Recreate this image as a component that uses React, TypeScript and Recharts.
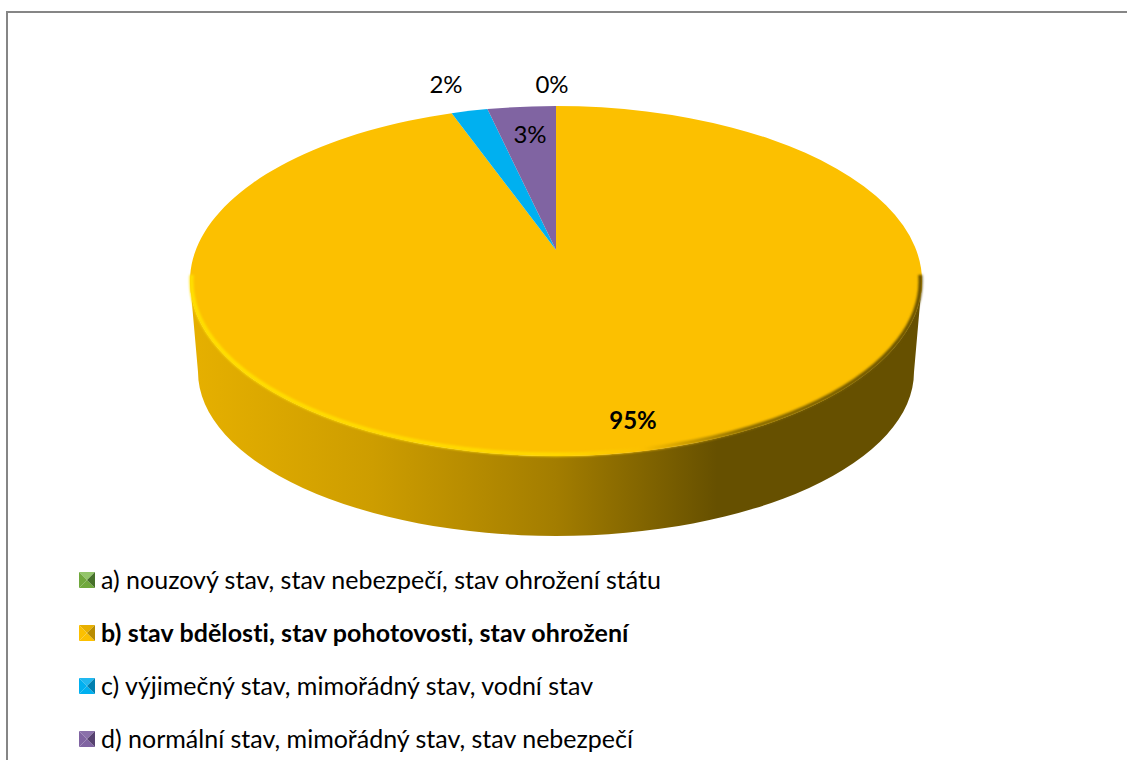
import React from "react";
import { PieChart, Pie, Legend } from "recharts";

const categories = [
  "a) nouzový stav, stav nebezpečí, stav ohrožení státu",
  "b) stav bdělosti, stav pohotovosti, stav ohrožení",
  "c) výjimečný stav, mimořádný stav, vodní stav",
  "d) normální stav, mimořádný stav, stav nebezpečí",
];
const values = [0, 95.4, 1.6, 3.0];
const colors = ["#70a83d", "#fcc000", "#00b0f0", "#8064a2"];
const darkColors = ["#46702a", "#b88c00", "#0080b0", "#574270"];
const lightColors = ["#93c56a", "#e8b000", "#20b8f0", "#8a70aa"];
const labelOffsets = [
  { dx: -4, dy: -198 },
  { dx: 77, dy: 138 },
  { dx: -110, dy: -198 },
  { dx: -26, dy: -148 },
];
const emphasised = 1;

const FONT = "Lato, 'Open Sans', sans-serif";
const CX = 556;
const CY = 281;
const RX = 366;
const RY = 175;
const VERTEX_DY = -31;
const DEPTH = 91;
const BOTTOM_RX = 358;
const BOTTOM_RY = 164;

const chartData = categories.map((name, i) => ({ name, value: values[i], fill: colors[i] }));

const rad = (d: number) => (d * Math.PI) / 180;
const pt = (cx: number, cy: number, rx: number, ry: number, a: number) => [
  cx + rx * Math.cos(rad(a)),
  cy - ry * Math.sin(rad(a)),
];

// the part of a clockwise sector that faces the viewer (angles -180..0)
function frontRange(start: number, end: number): [number, number] | null {
  const a = Math.min(start, 0);
  const b = Math.max(end, -180);
  return a > b ? [a, b] : null;
}

function TopShape(props: any) {
  const { cx, cy, outerRadius, startAngle, endAngle, fill } = props;
  if (Math.abs(startAngle - endAngle) < 0.01) return <g />;
  const ry = (outerRadius * RY) / RX;
  const [x0, y0] = pt(cx, cy, outerRadius, ry, startAngle);
  const [x1, y1] = pt(cx, cy, outerRadius, ry, endAngle);
  const large = Math.abs(startAngle - endAngle) > 180 ? 1 : 0;
  const d = `M${cx},${cy + VERTEX_DY}L${x0},${y0}A${outerRadius},${ry} 0 ${large} 1 ${x1},${y1}Z`;
  const range = frontRange(startAngle, endAngle);
  let rim = null;
  if (range) {
    const ir = outerRadius - 1.5;
    const iry = ry - 1.5;
    const [a0, b0] = pt(cx, cy, ir, iry, range[0] + 2);
    const [a1, b1] = pt(cx, cy, ir, iry, range[1] - 2);
    rim = (
      <path
        d={`M${a0},${b0}A${ir},${iry} 0 1 1 ${a1},${b1}`}
        fill="none"
        stroke="url(#rimGrad)"
        strokeWidth={4}
        filter="url(#rimBlur)"
      />
    );
  }
  return (
    <g>
      <path d={d} fill={fill} />
      {rim}
    </g>
  );
}

function WallShape(props: any) {
  const { cx, cy, outerRadius, startAngle, endAngle } = props;
  const range = frontRange(startAngle, endAngle);
  if (!range) return <g />;
  const ry = (outerRadius * RY) / RX;
  const [x0, y0] = pt(cx, cy, outerRadius, ry, range[0]);
  const [x1, y1] = pt(cx, cy, outerRadius, ry, range[1]);
  const [bx0, by0] = pt(cx, cy + DEPTH, BOTTOM_RX, BOTTOM_RY, range[0]);
  const [bx1, by1] = pt(cx, cy + DEPTH, BOTTOM_RX, BOTTOM_RY, range[1]);
  const d = `M${x1},${y1}L${bx1},${by1}A${BOTTOM_RX},${BOTTOM_RY} 0 0 0 ${bx0},${by0}L${x0},${y0}A${outerRadius},${ry} 0 0 1 ${x1},${y1}Z`;
  return <path d={d} fill="url(#wallGrad)" />;
}

function renderLabel(props: any) {
  const { cx, cy, index, value } = props;
  const off = labelOffsets[index];
  return (
    <text
      x={cx + off.dx}
      y={cy + off.dy}
      textAnchor="middle"
      dominantBaseline="central"
      fontFamily={FONT}
      fontSize={24}
      fontWeight={index === emphasised ? 700 : 400}
      fill="#000"
    >
      {Math.round(value)}%
    </text>
  );
}

function Marker({ i }: { i: number }) {
  const s = 16;
  const c = s / 2;
  return (
    <svg width={s} height={s} style={{ display: "block", flex: "none" }}>
      <polygon points={`0,0 ${s},0 ${c},${c}`} fill={lightColors[i]} />
      <polygon points={`0,${s} ${s},${s} ${c},${c}`} fill={colors[i]} />
      <polygon points={`0,0 0,${s} ${c},${c}`} fill={colors[i]} />
      <polygon points={`${s},0 ${s},${s} ${c},${c}`} fill={darkColors[i]} />
    </svg>
  );
}

function LegendContent(props: any) {
  const seen = new Set<string>();
  const items = (props.payload || []).filter((it: any) => {
    if (seen.has(it.value)) return false;
    seen.add(it.value);
    return true;
  });
  return (
    <div>
      {items.map((it: any, i: number) => (
        <div
          key={i}
          style={{
            display: "flex",
            alignItems: "center",
            height: 53,
            fontFamily: FONT,
            fontSize: 25,
            fontWeight: i === emphasised ? 700 : 400,
            letterSpacing: i === emphasised ? 0.08 : 0,
            color: "#000",
            whiteSpace: "nowrap",
          }}
        >
          <Marker i={i} />
          <span style={{ marginLeft: 6, position: "relative", top: -1 }}>{it.value}</span>
        </div>
      ))}
    </div>
  );
}

export default function App() {
  return (
    <div style={{ position: "absolute", left: 0, top: 0, width: 1127, height: 760, overflow: "hidden", background: "#fff" }}>
      <div style={{ position: "absolute", left: 6, top: 11, width: 1300, height: 900, border: "2px solid #868686" }} />
      <PieChart width={1127} height={760} margin={{ top: 0, right: 0, bottom: 0, left: 0 }} style={{ position: "absolute", left: 0, top: 0 }}>
        <defs>
          <linearGradient id="wallGrad" x1="0" y1="0" x2="1" y2="0">
            <stop offset="0" stopColor="#e6b000" />
            <stop offset="0.25" stopColor="#cd9d00" />
            <stop offset="0.5" stopColor="#a37d00" />
            <stop offset="0.72" stopColor="#665000" />
            <stop offset="1" stopColor="#665000" />
          </linearGradient>
          <linearGradient id="rimGrad" x1="0" y1="0" x2="1" y2="0">
            <stop offset="0" stopColor="#ffe000" />
            <stop offset="0.5" stopColor="#ffd800" />
            <stop offset="0.62" stopColor="#fcc000" />
            <stop offset="0.76" stopColor="#8a6c00" />
            <stop offset="1" stopColor="#665000" />
          </linearGradient>
          <filter id="rimBlur" x="-5%" y="-5%" width="110%" height="110%">
            <feGaussianBlur stdDeviation="1.2" />
          </filter>
        </defs>
        <Pie
          data={chartData}
          dataKey="value"
          nameKey="name"
          cx={CX}
          cy={CY}
          outerRadius={RX}
          startAngle={90}
          endAngle={-270}
          stroke="none"
          legendType="none"
          isAnimationActive={false}
          shape={WallShape}
        />
        <Pie
          data={chartData}
          dataKey="value"
          nameKey="name"
          cx={CX}
          cy={CY}
          outerRadius={RX}
          startAngle={90}
          endAngle={-270}
          stroke="none"
          isAnimationActive={false}
          shape={TopShape}
          label={renderLabel}
          labelLine={false}
        />
        <Legend
          content={LegendContent}
          wrapperStyle={{ position: "absolute", left: 79, top: 553, width: 800, bottom: "auto" }}
        />
      </PieChart>
    </div>
  );
}
